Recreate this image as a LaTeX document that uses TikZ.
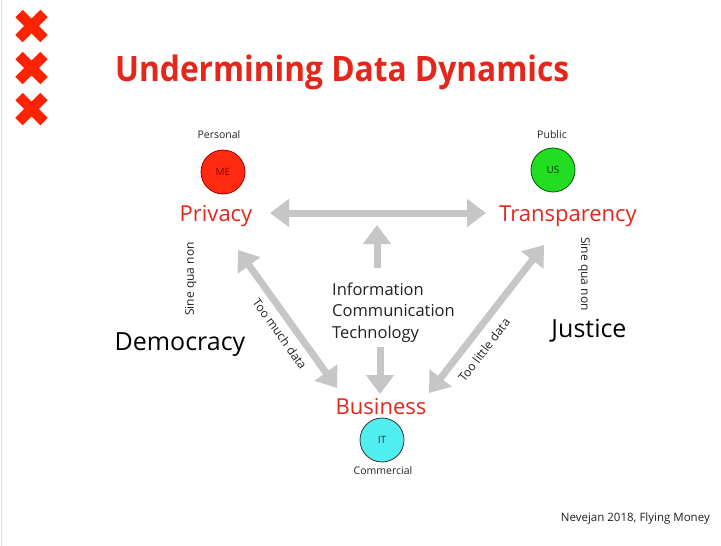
\documentclass[tikz,border=0pt]{standalone}
\usepackage{fontspec}
\setmainfont{Open Sans}
\usetikzlibrary{arrows.meta}
\definecolor{tred}{HTML}{E4261B}
\definecolor{xred}{HTML}{FF2200}
\definecolor{agray}{HTML}{C6C6C6}
\definecolor{mered}{HTML}{FF2A0F}
\definecolor{usgreen}{HTML}{22DD22}
\definecolor{itcyan}{HTML}{50EEF0}
\definecolor{txt}{HTML}{222222}
\tikzset{
  garrow/.style={draw=agray, line width=7pt, -{Triangle[width=27pt,length=19pt]}},
  gdarrow/.style={draw=agray, line width=7pt, {Triangle[width=27pt,length=19pt]}-{Triangle[width=27pt,length=19pt]}},
  xmark/.style={draw=xred, line width=10.5pt},
  concept/.style={text=tred, font=\fontsize{22}{26}\selectfont, inner sep=0pt},
  small/.style={text=txt, font=\fontsize{10.5}{12}\selectfont, inner sep=0pt},
  side/.style={text=black, font=\fontsize{25}{30}\selectfont, inner sep=0pt},
  sqn/.style={text=txt, font=\fontsize{12}{14}\selectfont, inner sep=0pt},
  dot/.style={circle, minimum size=44pt, inner sep=0pt, line width=0.8pt, font=\fontsize{10}{12}\selectfont},
}
\begin{document}
\begin{tikzpicture}[x=1pt,y=-1pt]
\useasboundingbox[fill=white] (0,0) rectangle (721,546);
\draw[gray!25, line width=1pt] (1.5,0) -- (1.5,546);
% crosses
\foreach \cy/\nm in {26/xa,68/xb,109/xc}{
  \coordinate (\nm) at (31.5,\cy);
  \draw[xmark] ([shift={(-12.5,-12.5)}]\nm) -- ([shift={(12.5,12.5)}]\nm);
  \draw[xmark] ([shift={(-12.5,12.5)}]\nm) -- ([shift={(12.5,-12.5)}]\nm);
}
% title
\node[anchor=base west, text=tred, font=\fontsize{35}{40}\selectfont\bfseries, inner sep=0pt] (title) at (115,81) {\scalebox{0.905}[1]{Undermining Data Dynamics}};
% circles
\node[small] (personal) at (219,135) {Personal};
\node[small] (public) at (552,135) {Public};
\node[dot, fill=mered, draw=red!60!black, text=red!55!black] (me) at (223,172) {ME};
\node[dot, fill=usgreen, draw=green!35!black, text=green!25!black] (us) at (553,170) {US};
\node[dot, fill=itcyan, draw=black!80, text=black!80] (it) at (382,440) {IT};
\node[small] (commercial) at (383,471) {Commercial};
% concepts
\node[concept] (privacy) at (216,216.5) {Privacy};
\node[concept] (transparency) at (568,216.5) {Transparency};
\node[concept] (business) at (381,407) {Business};
% sides
\node[side] (democracy) at (180,345) {Democracy};
\node[side] (justice) at (589,331) {Justice};
\node[sqn, rotate=90] (sqnl) at (191,279) {Sine qua non};
\node[sqn, rotate=-90] (sqnr) at (584,274) {Sine qua non};
% ICT
\node[anchor=west, align=left, text=txt, font=\fontsize{16.5}{21.5}\selectfont, inner sep=0pt] (ict) at (332,312.5) {Information\\Communication\\Technology};
% arrow end points
\coordinate (hl) at (270,213);
\coordinate (hr) at (486,213);
\coordinate (ut) at (377,225);
\coordinate (ub) at (377,268);
\coordinate (dt) at (380,347);
\coordinate (db) at (380,394);
\coordinate (lt) at (238,250);
\coordinate (lb) at (337,388);
\coordinate (rt) at (544,245);
\coordinate (rb) at (429,393);
\draw[gdarrow] (hl) -- (hr);
\draw[garrow] (ub) -- (ut);
\draw[garrow] (dt) -- (db);
\draw[gdarrow] (lt) -- (lb);
\draw[gdarrow] (rb) -- (rt);
% diagonal labels
\node[sqn, rotate=-54.3] (toomuch) at (280,334) {Too much data};
\node[sqn, rotate=52.5] (toolittle) at (484,350) {Too little data};
% footer
\node[anchor=east, text=txt, font=\fontsize{11.5}{13}\selectfont, inner sep=0pt] (cite) at (710,519) {Nevejan 2018, Flying Money};
\end{tikzpicture}
\end{document}
